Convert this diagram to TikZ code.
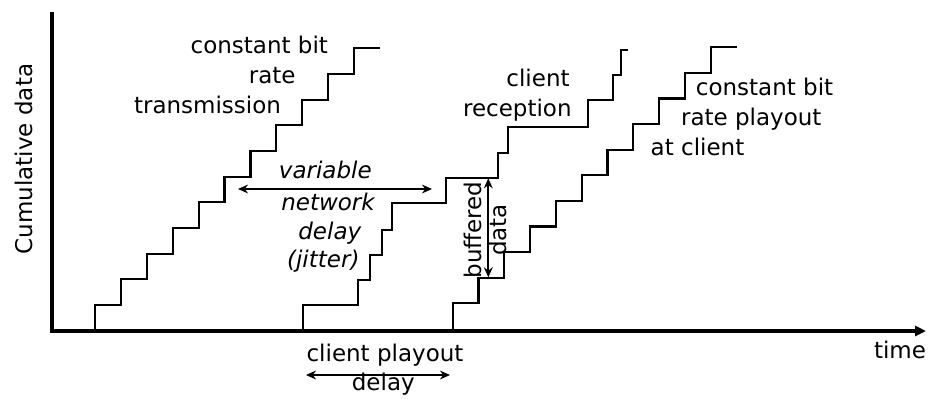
\documentclass[tikz,border=0pt]{standalone}
\usepackage{fontspec}
\setmainfont{DejaVu Sans}
\usetikzlibrary{arrows.meta}
\begin{document}
\begin{tikzpicture}[x=0.5pt,y=-0.5pt,
  font=\fontsize{11.5}{14}\selectfont,
  stair/.style={line width=1.1pt, line join=miter},
  axisline/.style={line width=1.8pt},
  dim/.style={line width=1pt, {Stealth[length=5pt,width=4.4pt]}-{Stealth[length=5pt,width=4.4pt]}},
  lbl/.style={inner sep=0pt, anchor=base},
  ilbl/.style={lbl, font=\fontsize{11.5}{14}\selectfont\itshape}]
\useasboundingbox (0,0) rectangle (928,398);

% axes
\coordinate (ytop) at (52,12);
\coordinate (origin) at (52,331);
\coordinate (xend) at (926,331);
\draw[axisline, -{Triangle[length=5.5pt,width=5pt]}] (ytop) -- (origin) -- (xend);

% constant bit rate transmission
\draw[stair] (95,331) foreach \i in {0,...,10} {
  -- ({95+25.9*\i},{305-25.67*\i}) -- ({95+25.9*(\i+1)},{305-25.67*\i}) };

% client reception
\draw[stair] (302.7,331) -- (302.7,305) -- (358.3,305) -- (358.3,280) -- (370,280)
  -- (370,255) -- (381.7,255) -- (381.7,230) -- (391.7,230) -- (391.7,203.3)
  -- (445.7,203.3) -- (445.7,178.3) -- (498.3,178.3) -- (498.3,153.3)
  -- (507.7,153.3) -- (507.7,126.7) -- (588.3,126.7) -- (588.3,100)
  -- (613.3,100) -- (613.3,75) -- (621,75) -- (621,50) -- (627.7,50);

% constant bit rate playout
\draw[stair] (452.7,331) foreach \i in {0,...,10} {
  -- ({452.7+25.8*\i},{303.3-25.6*\i}) -- ({452.7+25.8*(\i+1)},{303.3-25.6*\i}) };

% labels
\node[lbl] (cbt1) at (259.3,53.3) {constant bit};
\node[lbl] (cbt2) at (272.2,83.3) {rate};
\node[lbl] (cbt3) at (207.5,113.3) {transmission};

\node[ilbl] (vnd1) at (325.3,178.5) {variable};
\node[ilbl] (vnd2) at (328,210) {network};
\node[ilbl] (vnd3) at (329.8,239) {delay};
\node[ilbl] (vnd4) at (323.3,267) {(jitter)};

\node[lbl, anchor=base east] (cr1) at (570,86) {client};
\node[lbl, anchor=base east] (cr2) at (572,116) {reception};

\node[lbl] (cbp1) at (764.5,95.5) {constant bit};
\node[lbl] (cbp2) at (751.3,125.5) {rate playout};
\node[lbl] (cbp3) at (697.5,155.5) {at client};

\node[lbl] (cpd1) at (385,361) {client playout};
\node[lbl] (cpd2) at (383.3,390) {delay};
\node[lbl] (tm) at (900,358) {time};

\node[inner sep=0pt, rotate=90] (cum) at (24,159) {Cumulative data};
\node[inner sep=0pt, rotate=90] (buf) at (473,230) {buffered};
\node[inner sep=0pt, rotate=90] (dat) at (498,230) {data};

% dimension arrows
\coordinate (vd1) at (238,189);
\coordinate (vd2) at (432,189);
\draw[dim] (vd1) -- (vd2);
\coordinate (bd1) at (488.3,178.3);
\coordinate (bd2) at (488.3,277.3);
\draw[dim] (bd1) -- (bd2);
\coordinate (pd1) at (306,375);
\coordinate (pd2) at (450,375);
\draw[dim] (pd1) -- (pd2);
\end{tikzpicture}
\end{document}
